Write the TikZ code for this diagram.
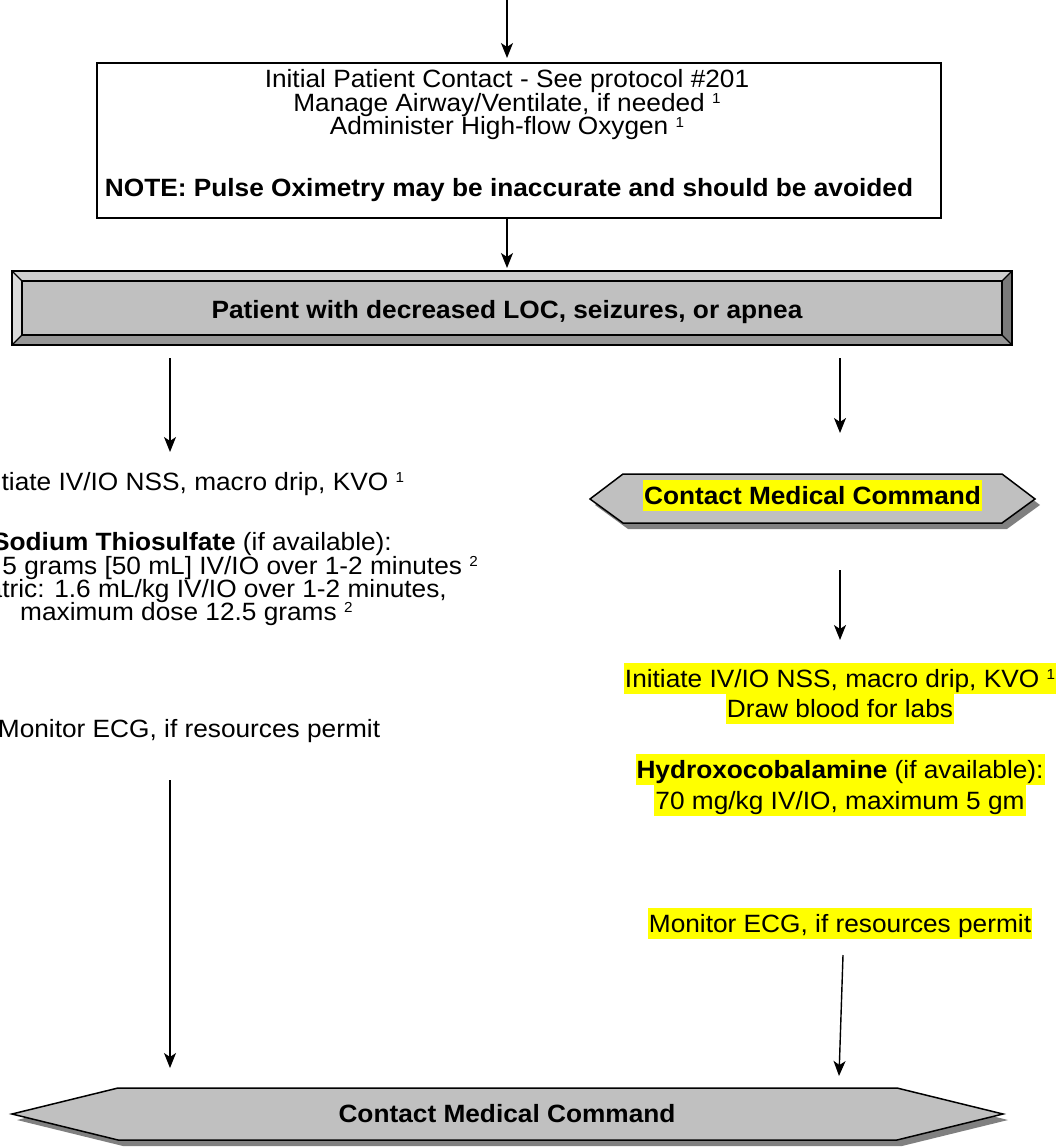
\documentclass[tikz,border=0pt]{standalone}
\usepackage{fontspec}
\setmainfont{Liberation Sans}[FakeStretch=1.05]
\usetikzlibrary{arrows.meta}
\definecolor{boxgray}{HTML}{C0C0C0}
\definecolor{bevtop}{HTML}{CFCFCF}
\definecolor{bevleft}{HTML}{DADADA}
\definecolor{bevbot}{HTML}{969696}
\definecolor{bevright}{HTML}{7A7A7A}
\definecolor{shadowgray}{HTML}{808080}
\definecolor{hlyellow}{HTML}{FFFF00}
\newcommand\supr[1]{\raisebox{7.5pt}{\fontsize{14.5}{15}\selectfont #1}}
\begin{document}
\begin{tikzpicture}[x=1pt,y=-1pt, font=\fontsize{25}{30}\selectfont,
  txt/.style={anchor=base, inner sep=0pt},
  hl/.style={anchor=base, fill=hlyellow, inner xsep=1pt, inner ysep=0pt, text height=24pt, text depth=6.5pt},
  arr/.style={line width=1.4pt, -{Stealth[length=15pt,width=12pt,inset=4pt]}},
  edgeline/.style={line width=1.5pt, line join=miter},
]
\useasboundingbox (0,0) rectangle (1059,1147);
\clip (0,0) rectangle (1059,1147);
\fill[white] (0,0) rectangle (1059,1147);

% ---- top box
\node[draw, line width=1.5pt, minimum width=844pt, minimum height=155pt, inner sep=0pt] (box1) at (519,140.5) {};
\node[txt] (t1) at (507,88) {Initial Patient Contact - See protocol \#201};
\node[txt] (t2) at (507,111.5) {Manage Airway/Ventilate, if needed \supr{1}};
\node[txt] (t3) at (507,135) {Administer High-flow Oxygen \supr{1}};
\node[txt] (t4) at (509,197) {\bfseries NOTE: Pulse Oximetry may be inaccurate and should be avoided};

% ---- bevel box
\node[fill=boxgray, minimum width=1000pt, minimum height=74pt, inner sep=0pt] (bev) at (512,308) {};
\fill[bevtop] (12,271) -- (1012,271) -- (1002,281) -- (22,281) -- cycle;
\fill[bevleft] (12,271) -- (22,281) -- (22,335) -- (12,345) -- cycle;
\fill[bevbot] (12,345) -- (22,335) -- (1002,335) -- (1012,345) -- cycle;
\fill[bevright] (1012,271) -- (1002,281) -- (1002,335) -- (1012,345) -- cycle;
\draw[edgeline] (12,271) rectangle (1012,345);
\draw[edgeline] (22,281) rectangle (1002,335);
\draw[line width=1.2pt] (12,271) -- (22,281) (1012,271) -- (1002,281) (12,345) -- (22,335) (1012,345) -- (1002,335);
\node[txt] (bt) at (507,318) {\bfseries Patient with decreased LOC, seizures, or apnea};

% ---- small hexagon (right)
\fill[shadowgray] (595,505) -- (628,480) -- (1007,480) -- (1040,505) -- (1007,529) -- (628,529) -- cycle;
\filldraw[fill=boxgray, edgeline] (590,499) -- (623,474) -- (1002,474) -- (1035,499) -- (1002,523) -- (623,523) -- cycle;
\node[hl] (cmc1) at (812.5,504) {\bfseries Contact Medical Command};

% ---- left column
\node[txt] (l1) at (189,490) {Initiate IV/IO NSS, macro drip, KVO \supr{1}};
\node[txt, anchor=base east] (l2) at (392,550) {{\bfseries Sodium Thiosulfate} (if available):};
\node[txt, anchor=base east] (l3) at (478,574) {Adult: 12.5 grams [50 mL] IV/IO over 1-2 minutes \supr{2}};
\node[txt, anchor=base east] (l4) at (447,597) {Pediatric: 1.6 mL/kg IV/IO over 1-2 minutes,};
\node[txt, anchor=base west] (l5) at (20,620) {maximum dose 12.5 grams \supr{2}};
\node[txt] (l6) at (189,737) {Monitor ECG, if resources permit};

% ---- right column
\node[hl] (r1) at (840,687) {Initiate IV/IO NSS, macro drip, KVO \supr{1}};
\node[hl] (r2) at (840,717) {Draw blood for labs};
\node[hl] (r3) at (840,778) {{\bfseries Hydroxocobalamine} (if available):};
\node[hl] (r4) at (840,809) {70 mg/kg IV/IO, maximum 5 gm};
\node[hl] (r5) at (840,932) {Monitor ECG, if resources permit};

% ---- bottom hexagon
\fill[shadowgray] (17,1120) -- (123,1094) -- (902,1094) -- (1008,1120) -- (902,1146) -- (123,1146) -- cycle;
\filldraw[fill=boxgray, edgeline] (12,1114) -- (118,1088) -- (897,1088) -- (1003,1114) -- (897,1140) -- (118,1140) -- cycle;
\node[txt] (cmc2) at (507,1122) {\bfseries Contact Medical Command};

% ---- connectors
\coordinate (a0s) at (507,0);   \coordinate (a0e) at (507,58);
\coordinate (a1s) at (507,218); \coordinate (a1e) at (507,268);
\coordinate (a2s) at (170,358); \coordinate (a2e) at (170,452);
\coordinate (a3s) at (840,358); \coordinate (a3e) at (840,433);
\coordinate (a4s) at (840,570); \coordinate (a4e) at (840,640);
\coordinate (a5s) at (843,955); \coordinate (a5e) at (839,1076);
\coordinate (a6s) at (170,780); \coordinate (a6e) at (170,1068);
\draw[arr] (a0s) -- (a0e);
\draw[arr] (a1s) -- (a1e);
\draw[arr] (a2s) -- (a2e);
\draw[arr] (a3s) -- (a3e);
\draw[arr] (a4s) -- (a4e);
\draw[arr] (a5s) -- (a5e);
\draw[arr] (a6s) -- (a6e);
\end{tikzpicture}
\end{document}
